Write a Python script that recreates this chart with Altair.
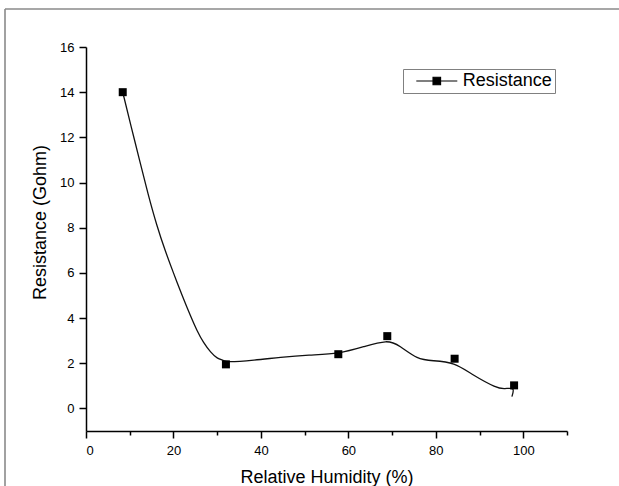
import altair as alt
import pandas as pd

# measured data points (Relative Humidity %, Resistance Gohm)
rh = [8.4, 32.0, 57.7, 68.9, 84.3, 97.9]
res = [14.0, 1.95, 2.40, 3.20, 2.20, 1.02]

# smoothed curve
curve_x = [8.4, 10.3, 12.3, 14.2, 16.2, 18.1, 20.0, 22.0, 23.9, 25.4, 26.9, 28.5,
           30.0, 31.5, 33.0, 38.4, 44.5, 51.0, 57.7, 63.5, 68.5, 71.9, 75.7, 79.5,
           84.1, 88.7, 93.3, 95.8, 97.6, 97.4]
curve_y = [14.0, 12.5, 10.95, 9.5, 8.12, 7.0, 6.0, 5.0, 4.1, 3.45, 2.92, 2.5,
           2.24, 2.12, 2.07, 2.14, 2.26, 2.36, 2.46, 2.73, 2.95, 2.73, 2.26, 2.11,
           1.96, 1.47, 0.99, 0.88, 0.86, 0.52]

x_ticks = list(range(0, 111, 10))
y_ticks = list(range(0, 17))

pts = pd.DataFrame({"rh": rh, "res": res, "series": ["Resistance"] * len(rh)})
cur = pd.DataFrame({"rh": curve_x, "res": curve_y, "i": list(range(len(curve_x)))})

FONT = "Liberation Sans"

xscale = alt.Scale(domain=[0, 110], nice=False, zero=False)
yscale = alt.Scale(domain=[-1, 16], nice=False, zero=False)

xaxis = alt.Axis(
    values=x_ticks,
    labelExpr="datum.value % 20 == 0 && datum.value <= 100 ? datum.label : ''",
    tickSize={"condition": {"test": "datum.value % 20 == 0", "value": 7}, "value": 4},
    labelPadding=6,
    title="Relative Humidity (%)",
    titleBaseline="alphabetic",
    titleY=51,
)
yaxis = alt.Axis(
    values=y_ticks,
    labelExpr="datum.value % 2 == 0 ? datum.label : ''",
    tickSize={"condition": {"test": "datum.value % 2 == 0", "value": 7}, "value": 4},
    labelPadding=5,
    title="Resistance (Gohm)",
    titleBaseline="alphabetic",
    titleX=-41,
    titleY=175,
)

curve = alt.Chart(cur).mark_line(
    interpolate="natural", color="#111111", strokeWidth=1.3
).encode(
    x=alt.X("rh:Q", scale=xscale, axis=xaxis),
    y=alt.Y("res:Q", scale=yscale, axis=yaxis),
    order="i:Q",
)

legend = alt.Legend(
    title=None,
    orient="none",
    legendX=317,
    legendY=22,
    padding=3,
    strokeColor="#808080",
    fillColor="white",
    symbolType="M-4.1,0H4.1M-0.75,-0.75H0.75V0.75H-0.75Z",
    symbolSize=100,
    symbolStrokeWidth=1.2,
    symbolStrokeColor="black",
    symbolFillColor="black",
    symbolOffset=21.8,
    labelOffset=17,
    labelFont=FONT,
    labelFontSize=18,
    labelColor="black",
)

points = alt.Chart(pts).mark_square(size=64, opacity=1, filled=True).encode(
    x=alt.X("rh:Q", scale=xscale),
    y=alt.Y("res:Q", scale=yscale),
    color=alt.Color("series:N", scale=alt.Scale(range=["black"]), legend=legend),
)

frame_df = pd.DataFrame({"k": [0]})
frame_top = alt.Chart(frame_df).mark_rule(color="#8a8a8a", strokeWidth=1.6).encode(
    x=alt.value(-81), x2=alt.value(600), y=alt.value(-38)
)
frame_left = alt.Chart(frame_df).mark_rule(color="#8a8a8a", strokeWidth=1.6).encode(
    x=alt.value(-81), y=alt.value(-38), y2=alt.value(500)
)

chart = alt.layer(frame_top, frame_left, curve, points).properties(
    width=481,
    height=384,
    autosize=alt.AutoSizeParams(type="none"),
    padding={"left": 86, "top": 47, "right": 52, "bottom": 55},
    background="white",
).configure_view(
    strokeWidth=0
).configure_axis(
    domainColor="black",
    domainWidth=1.5,
    tickColor="black",
    tickWidth=1.5,
    grid=False,
    labelFont=FONT,
    labelFontSize=13,
    labelColor="black",
    titleFont=FONT,
    titleFontSize=18,
    titleFontWeight="normal",
    titleColor="black",
)

chart.save("out.html", embed_options={"renderer": "svg", "actions": False})
